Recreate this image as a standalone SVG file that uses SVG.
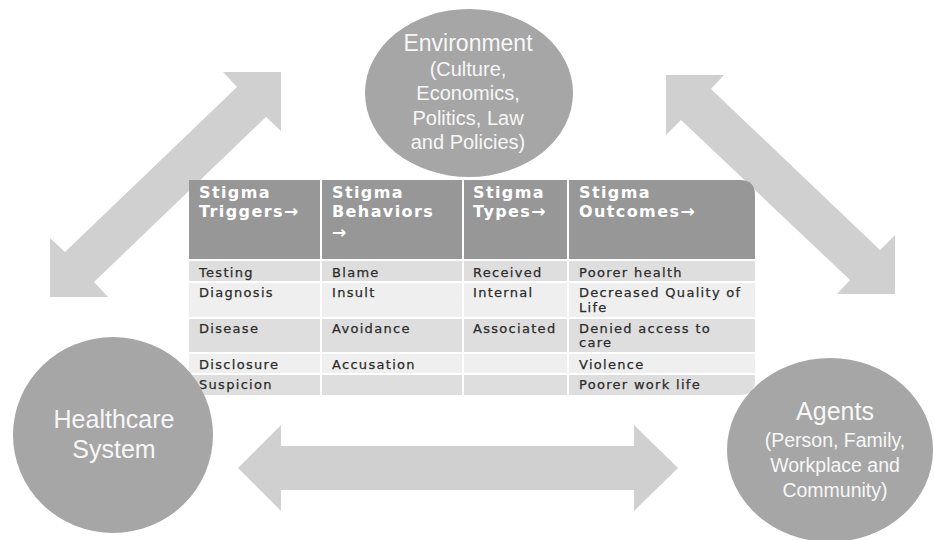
<svg xmlns="http://www.w3.org/2000/svg" width="934" height="540" viewBox="0 0 934 540">
  <style>
    .arrow { fill: #d0d0d0; }
    .bubble { fill: #a6a6a6; }
    .btxt { font-family: "Liberation Sans", Arial, sans-serif; fill: #f7f7f7; text-anchor: middle; }
    .hd { fill: #979797; }
    .rowA { fill: #dedede; }
    .rowB { fill: #efefef; }
    .sep { stroke: #ffffff; stroke-width: 2; }
    .th { font-family: "DejaVu Sans", Verdana, sans-serif; font-weight: bold; font-size: 16px; letter-spacing: 1.4px; fill: #ffffff; }
    .ar { font-size: 17px; letter-spacing: 0; }
    .td { font-family: "DejaVu Sans", Verdana, sans-serif; font-size: 13px; letter-spacing: 1.3px; fill: #2b2b2b; stroke: #2b2b2b; stroke-width: 0.25; }
  </style>
  <defs>
    <clipPath id="tableShape">
      <path d="M189,180 H740 Q755,180 755,195 V380 Q755,395 740,395 H189 Z"/>
    </clipPath>
  </defs>

  <rect width="934" height="540" fill="#ffffff"/>

  <!-- two-headed block arrows linking the three bubbles -->
  <g id="connectors">
    <polygon class="arrow" points="281,72 281,131 266,117 94,282 108,297 50,297 50,238 65,252 237,87 223,72"/>
    <polygon class="arrow" points="666,75 724,75 711,89 880,250 895,235 895,294 837,294 850,280 681,120 666,135"/>
    <polygon class="arrow" points="238,468 281,425 281,446 634,446 634,425 678,468 634,511 634,490 281,490 281,511"/>
  </g>

  <g id="environment">
    <ellipse class="bubble" cx="469" cy="93" rx="104" ry="84"/>
    <text class="btxt" x="468" y="51" font-size="23">Environment</text>
    <text class="btxt" x="468" y="76" font-size="20">(Culture,</text>
    <text class="btxt" x="468" y="100" font-size="20">Economics,</text>
    <text class="btxt" x="468" y="125" font-size="20">Politics, Law</text>
    <text class="btxt" x="468" y="149" font-size="20">and Policies)</text>
  </g>

  <g id="stigma-table">
    <g clip-path="url(#tableShape)">
      <rect class="hd" x="189" y="180" width="566" height="80"/>
      <rect class="rowA" x="189" y="260" width="566" height="22"/>
      <rect class="rowB" x="189" y="282" width="566" height="36"/>
      <rect class="rowA" x="189" y="318" width="566" height="35"/>
      <rect class="rowB" x="189" y="353" width="566" height="21"/>
      <rect class="rowA" x="189" y="374" width="566" height="21"/>
    </g>
    <line class="sep" x1="189" y1="260" x2="755" y2="260" stroke-width="3"/>
    <line class="sep" x1="189" y1="282" x2="755" y2="282" stroke-width="1.5"/>
    <line class="sep" x1="189" y1="318" x2="755" y2="318" stroke-width="1.5"/>
    <line class="sep" x1="189" y1="353" x2="755" y2="353" stroke-width="1.5"/>
    <line class="sep" x1="189" y1="374" x2="755" y2="374" stroke-width="1.5"/>
    <line class="sep" x1="321" y1="180" x2="321" y2="395"/>
    <line class="sep" x1="463" y1="180" x2="463" y2="395"/>
    <line class="sep" x1="568" y1="180" x2="568" y2="395"/>

    <text class="th" x="199" y="198">Stigma</text>
    <text class="th" x="199" y="217">Triggers<tspan class="ar">→</tspan></text>
    <text class="th" x="332" y="198">Stigma</text>
    <text class="th" x="332" y="217">Behaviors</text>
    <text class="th" x="332" y="238"><tspan class="ar">→</tspan></text>
    <text class="th" x="473" y="198">Stigma</text>
    <text class="th" x="473" y="217">Types<tspan class="ar">→</tspan></text>
    <text class="th" x="579" y="198">Stigma</text>
    <text class="th" x="579" y="217">Outcomes<tspan class="ar">→</tspan></text>

    <text class="td" x="199" y="277">Testing</text>
    <text class="td" x="332" y="277">Blame</text>
    <text class="td" x="473" y="277">Received</text>
    <text class="td" x="579" y="277">Poorer health</text>

    <text class="td" x="199" y="297">Diagnosis</text>
    <text class="td" x="332" y="297">Insult</text>
    <text class="td" x="473" y="297">Internal</text>
    <text class="td" x="579" y="297">Decreased Quality of</text>
    <text class="td" x="579" y="312">Life</text>

    <text class="td" x="199" y="333">Disease</text>
    <text class="td" x="332" y="333">Avoidance</text>
    <text class="td" x="473" y="333">Associated</text>
    <text class="td" x="579" y="333">Denied access to</text>
    <text class="td" x="579" y="347">care</text>

    <text class="td" x="199" y="369">Disclosure</text>
    <text class="td" x="332" y="369">Accusation</text>
    <text class="td" x="579" y="369">Violence</text>

    <text class="td" x="199" y="389">Suspicion</text>
    <text class="td" x="579" y="389">Poorer work life</text>
  </g>

  <g id="healthcare">
    <ellipse class="bubble" cx="113" cy="435" rx="100" ry="98"/>
    <text class="btxt" x="114" y="428" font-size="25">Healthcare</text>
    <text class="btxt" x="114" y="458" font-size="25">System</text>
  </g>

  <g id="agents">
    <ellipse class="bubble" cx="830" cy="450" rx="103" ry="92"/>
    <text class="btxt" x="835" y="420" font-size="25">Agents</text>
    <text class="btxt" x="835" y="447" font-size="19.5">(Person, Family,</text>
    <text class="btxt" x="835" y="472" font-size="19.5">Workplace and</text>
    <text class="btxt" x="835" y="497" font-size="19.5">Community)</text>
  </g>
</svg>
